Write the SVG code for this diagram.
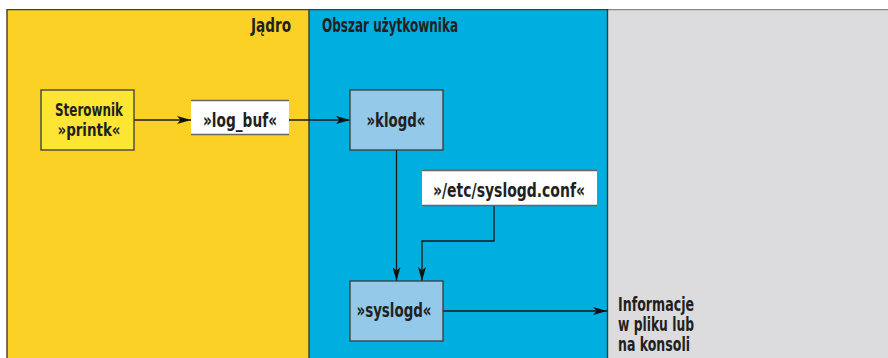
<svg xmlns="http://www.w3.org/2000/svg" width="888" height="358" viewBox="0 0 888 358">
<style>
.t{font-family:"DejaVu Sans Condensed","DejaVu Sans",sans-serif;font-size:19px;fill:#231f20;font-weight:bold}
.s{font-size:17px}
.box{stroke:#3a3a3a;stroke-width:1.3}
.wbox{fill:#ffffff}
.wl{stroke:#666;stroke-width:1.3}
.c{fill:none;stroke:#1a1a1a;stroke-width:1.3}
</style>
<defs>
<marker id="ah" viewBox="0 0 14 8" refX="14" refY="4" markerWidth="14" markerHeight="8" markerUnits="userSpaceOnUse" orient="auto">
<path d="M0,0 L14,4 L0,8 L3.5,4 z" fill="#111"/>
</marker>
</defs>
<rect width="888" height="358" fill="#ffffff"/>
<g id="zone-kernel">
<rect x="7" y="10" width="302" height="348" fill="#fbd126"/>
<text class="t" x="291" y="32" text-anchor="end" textLength="40" lengthAdjust="spacingAndGlyphs">Jądro</text>
</g>
<g id="zone-user">
<rect x="309" y="10" width="298" height="348" fill="#00aee0"/>
<text class="t" x="322" y="32" textLength="136" lengthAdjust="spacingAndGlyphs">Obszar użytkownika</text>
</g>
<g id="zone-output">
<rect x="607" y="10" width="281" height="348" fill="#dcdcde"/>
</g>
<g id="frame">
<line x1="7" y1="9.6" x2="607" y2="9.6" stroke="#3f3f3f" stroke-width="1.4"/>
<line x1="607" y1="9.6" x2="888" y2="9.6" stroke="#888" stroke-width="1.4"/>
<line x1="7" y1="9" x2="7" y2="358" stroke="#3f3a30" stroke-width="1.4"/>
<line x1="309" y1="9" x2="309" y2="358" stroke="#3f3a30" stroke-width="1.4"/>
<line x1="607.5" y1="9" x2="607.5" y2="358" stroke="#1f3a45" stroke-width="1.4"/>
</g>
<g id="connectors">
<line class="c" x1="134" y1="120" x2="191" y2="120" marker-end="url(#ah)"/>
<line class="c" x1="289" y1="120" x2="350" y2="120" marker-end="url(#ah)"/>
<line class="c" x1="396.5" y1="150" x2="396.5" y2="281" marker-end="url(#ah)"/>
<polyline class="c" points="494,206 494,241 422,241 422,281" marker-end="url(#ah)"/>
<line class="c" x1="443" y1="311" x2="607" y2="311" marker-end="url(#ah)"/>
</g>
<g id="node-printk">
<rect class="box" x="41" y="90" width="93" height="60" fill="#fde533"/>
<text class="t s" x="89" y="115.5" text-anchor="middle" textLength="68" lengthAdjust="spacingAndGlyphs">Sterownik</text>
<text class="t s" x="89" y="135.5" text-anchor="middle" textLength="63" lengthAdjust="spacingAndGlyphs">»printk«</text>
</g>
<g id="node-logbuf">
<rect class="wbox" x="191" y="100" width="98" height="35"/>
<line class="wl" x1="191" y1="100.5" x2="289" y2="100.5"/>
<line class="wl" x1="191" y1="134.5" x2="289" y2="134.5"/>
<text class="t" x="240" y="126.5" text-anchor="middle" textLength="74" lengthAdjust="spacingAndGlyphs">»log_buf«</text>
</g>
<g id="node-klogd">
<rect class="box" x="350" y="90" width="93" height="60" fill="#94c9ea"/>
<text class="t" x="396" y="126.5" text-anchor="middle" textLength="59" lengthAdjust="spacingAndGlyphs">»klogd«</text>
</g>
<g id="node-conf">
<rect class="wbox" x="422" y="170" width="175" height="36"/>
<line class="wl" x1="422" y1="170.5" x2="597" y2="170.5"/>
<line class="wl" x1="422" y1="205.5" x2="597" y2="205.5"/>
<text class="t" x="509" y="196.5" text-anchor="middle" textLength="152" lengthAdjust="spacingAndGlyphs">»/etc/syslogd.conf«</text>
</g>
<g id="node-syslogd">
<rect class="box" x="350" y="281" width="93" height="60" fill="#94c9ea"/>
<text class="t" x="394" y="317" text-anchor="middle" textLength="75" lengthAdjust="spacingAndGlyphs">»syslogd«</text>
</g>
<g id="node-output">
<text class="t" x="618" y="311" textLength="76" lengthAdjust="spacingAndGlyphs">Informacje</text>
<text class="t" x="618" y="331" textLength="76" lengthAdjust="spacingAndGlyphs">w pliku lub</text>
<text class="t" x="618" y="351" textLength="72" lengthAdjust="spacingAndGlyphs">na konsoli</text>
</g>
</svg>
